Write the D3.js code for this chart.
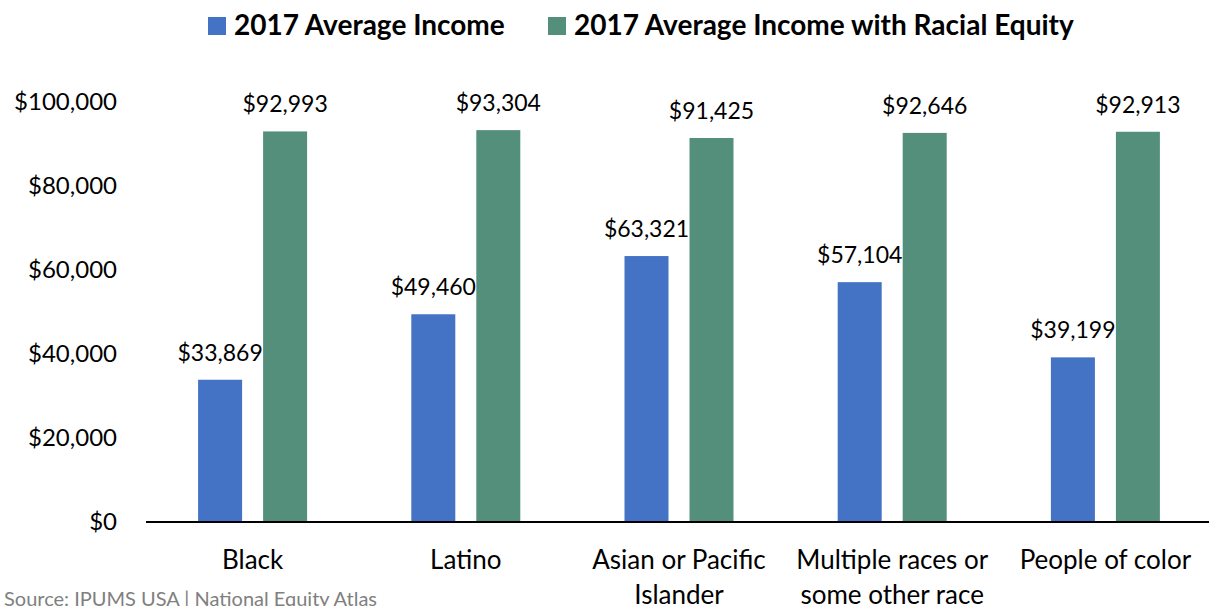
<!DOCTYPE html>
<html>
<head>
<meta charset="utf-8">
<script src="https://cdn.jsdelivr.net/npm/d3@7"></script>
<style>
  body { margin: 0; background: #fff; }
  svg text { font-family: Lato, "Noto Sans", sans-serif; }
</style>
</head>
<body>
<div id="viz"></div>
<script>
const categories = [['Black'], ['Latino'], ['Asian or Pacific', 'Islander'], ['Multiple races or', 'some other race'], ['People of color']];
const seriesNames = ['2017 Average Income', '2017 Average Income with Racial Equity'];
const averageIncome = [33869, 49460, 63321, 57104, 39199];
const equityIncome = [92993, 93304, 91425, 92646, 92913];
const yTicks = [0, 20000, 40000, 60000, 80000, 100000];

const colors = ['#4472C4', '#548F7B'];
const w = 1209;
const h = 606;

const svg = d3.select('#viz').
append('svg').
attr('width', w).
attr('height', h);

const x = d3.scaleBand().
domain(categories.map((d, i) => i)).
range([146, 1212]);

const x1 = d3.scaleBand().
domain([0, 1]).
range([0, 109]).
paddingInner(21 / 65);

const y = d3.scaleLinear().
domain([0, 100000]).
range([522, 102]);

const money = d => '$' + d3.format(',')(d);

// y axis labels
const yAxis = d3.axisLeft(y).
tickValues(yTicks).
tickFormat(money).
tickSize(0).
tickPadding(0);

svg.append('g').
attr('transform', 'translate(117,0)').
call(yAxis).
call(g => g.select('.domain').remove()).
selectAll('text').
style('font-size', '24px').
style('font-family', 'Lato, sans-serif').
attr('fill', '#000');

// bars
const rows = categories.map((c, i) => [averageIncome[i], equityIncome[i]]);

const groups = svg.selectAll('.grp').
data(rows).
enter().
append('g').
attr('class', 'grp').
attr('transform', (d, i) => 'translate(' + (x(i) + (x.bandwidth() - 109) / 2) + ',0)');

groups.selectAll('rect').
data(d => d).
enter().
append('rect').
attr('x', (d, j) => x1(j)).
attr('width', x1.bandwidth()).
attr('y', d => y(d)).
attr('height', d => y(0) - y(d)).
attr('fill', (d, j) => colors[j]);

groups.selectAll('.lbl').
data(d => d).
enter().
append('text').
attr('class', 'lbl').
attr('x', (d, j) => x1(j) + x1.bandwidth() / 2).
attr('y', d => y(d) - 19).
attr('text-anchor', 'middle').
style('font-size', '23px').
attr('fill', '#000').
text(money);

// x axis
svg.append('line').
attr('x1', 146).
attr('x2', w).
attr('y1', y(0)).
attr('y2', y(0)).
attr('stroke', '#000').
attr('stroke-width', 2);

const catLabels = svg.selectAll('.cat').
data(categories).
enter().
append('text').
attr('class', 'cat').
attr('x', (d, i) => x(i) + x.bandwidth() / 2).
attr('y', 569).
attr('text-anchor', 'middle').
style('font-size', '26px').
attr('fill', '#000');

catLabels.selectAll('tspan').
data(d => d).
enter().
append('tspan').
attr('x', function () { return d3.select(this.parentNode).attr('x'); }).
attr('dy', (d, k) => k === 0 ? 0 : 35).
text(d => d);

// legend
const legendX = [208, 548];
seriesNames.forEach(function (name, i) {
  svg.append('rect').
  attr('x', legendX[i]).
  attr('y', 17).
  attr('width', 18).
  attr('height', 18).
  attr('fill', colors[i]);
  svg.append('text').
  attr('x', legendX[i] + 26).
  attr('y', 35).
  style('font-size', '28px').
  style('font-weight', 'bold').
  attr('fill', '#000').
  text(name);
});

// source
svg.append('text').
attr('x', 4).
attr('y', 606).
style('font-size', '20px').
attr('fill', '#808080').
text('Source: IPUMS USA | National Equity Atlas');
</script>
</body>
</html>
